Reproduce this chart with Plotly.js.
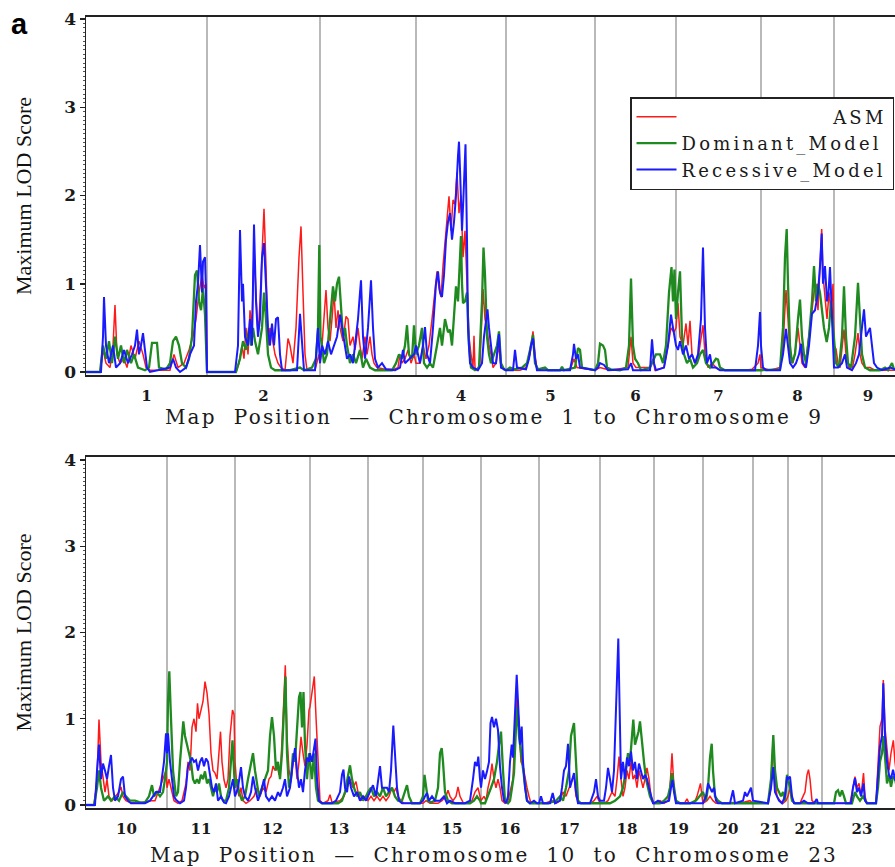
<!DOCTYPE html>
<html>
<head>
<meta charset="utf-8">
<script src="https://cdn.plot.ly/plotly-3.0.1.min.js"></script>
<style>
html,body{margin:0;padding:0;overflow:hidden;background:#fff;}
#chart{width:912px;height:867px;}
.xtitle,.x2title{letter-spacing:2.2px;}
.legendtext{letter-spacing:3.2px;}
</style>
</head>
<body>
<div id="chart"></div>
<script>
// ---------- categories ----------
const chromTop = ['1','2','3','4','5','6','7','8','9'];
const chromLenTop = [242,226,192,180,178,162,170,146,136];          // cM
const chromBot = ['10','11','12','13','14','15','16','17','18','19','20','21','22','23'];
const chromLenBot = [162,136,150,116,110,116,116,122,108,98,100,70,68,160]; // cM

const seriesNames = ['ASM','Dominant_Model','Recessive_Model'];

// ---------- top panel: chromosomes 1-9 (map position cM, max LOD) ----------
const asmPos1 = [0,28,34,40,48,54,58,62,68,76,82,90,98,106,114,120,128,168,176,184,196,206,214,220,226,232,236,240,242,
 300,306,312,316,320,324,328,332,336,340,344,348,352,356,360,364,368,372,378,384,390,398,404,408,414,420,426,430,434,438,442,458,466,
 468,472,476,480,484,488,492,496,500,504,508,514,520,524,528,534,538,544,548,552,558,562,568,572,576,582,598,614,624,628,632,638,644,650,656,660,
 668,674,680,686,692,698,702,706,710,714,718,722,726,730,734,738,742,746,750,754,758,762,766,770,774,776,778,782,788,794,798,802,806,810,814,820,826,830,840,
 868,880,888,894,898,902,968,976,982,1018,
 1028,1048,1084,1090,1094,1100,1128,1134,1138,1156,1164,1170,1176,1180,
 1184,1188,1194,1200,1204,1208,1212,1218,1224,1228,1234,1238,1244,1252,1260,1268,1318,1332,1344,1348,1350,
 1368,1388,1394,1400,1404,1408,1414,1420,1424,1428,1432,1438,1444,1450,1456,1460,1464,1468,1471.4,1474,1478,1482,1486,1490,1494,1496,
 1500,1504,1508,1512,1516,1520,1526,1532,1538,1544,1548,1552,1558,1568,1578,1632];
const asmLod1 = [0,0,0.25,0.1,0.05,0.3,0.76,0.2,0.1,0.15,0.05,0.3,0.15,0.35,0.2,0.05,0.02,0.02,0.2,0.05,0.1,0.25,0.4,0.6,0.9,1.1,0.95,1.0,0,
 0,0.1,0.3,0.15,0.5,0.2,0.7,0.5,1.4,0.9,0.4,0.8,1.3,1.85,1.2,0.3,0.5,0.4,0.2,0.1,0.05,0.02,0.38,0.3,0.1,0.5,1.3,1.65,0.9,0.2,0.02,0.02,0.2,
 0.1,0.3,0.6,0.93,0.5,0.35,0.6,0.9,0.5,0.7,0.5,0.35,0.63,0.6,0.3,0.4,0.25,0.5,0.3,0.15,0.4,0.2,0.4,0.2,0.1,0.05,0.03,0.03,0.05,0.2,0.1,0.15,0.25,0.1,0.2,0.1,
 0.1,0.3,0.15,0.3,0.6,0.9,1.14,0.95,0.85,1.2,1.5,1.8,1.99,1.6,1.95,1.9,2.26,1.8,2.0,1.3,1.6,1.0,0.4,0.2,0.05,0.41,0.05,0.02,0.1,0.94,0.6,0.5,0.3,0.2,0.05,0.1,0.3,0.05,0.02,
 0.02,0.05,0.2,0.46,0.2,0.02,0.02,0.15,0.05,0.02,
 0.05,0.02,0.05,0.4,0.1,0.05,0.05,0.15,0.02,0.05,0.3,0.5,0.45,0.5,
 0.78,0.4,0.3,0.55,0.3,0.58,0.2,0.1,0.15,0.3,0.53,0.2,0.05,0.1,0.05,0.02,0.02,0.03,0.1,0.2,0.05,
 0.02,0.05,0.3,0.93,0.6,0.2,0.1,0.3,0.5,0.3,0.1,0.05,0.3,0.6,0.9,1.0,0.7,1.2,1.62,1.1,0.8,0.6,0.9,0.7,1.0,0.3,
 0.26,0.1,0.05,0.3,0.48,0.2,0.05,0.02,0.2,0.44,0.2,0.1,0.05,0.05,0.02,0.02];

const domPos1 = [0,28,34,40,46,52,58,64,70,76,82,90,96,104,118,126,132,142,146,160,168,174,180,186,192,200,206,212,218,222,226,230,234,238,242,
 300,308,314,320,326,330,334,338,344,352,356,360,364,370,378,408,428,436,452,460,464,466.6,
 469,472,476,482,488,494,498,502,506,510,514,518,522,528,534,540,548,554,560,568,578,612,620,626,632,638,642,646,652,656,660,
 666,672,676,682,688,694,702,708,712,718,724,728,732,736,740,744,748,750,752,754,758,762,766,770,778,786,792,795,798,802,806,810,816,822,826,830,836,840,
 848,856,872,882,888,894,898,904,918,924,948,952,956,978,984,988,992,1018,
 1024,1028,1034,1038,1042,1050,1068,1080,1086,1090,1094,1098,1104,1110,1128,1140,1148,1154,1160,1166,1171,1174,1177,1180,
 1184,1188,1192,1196,1202,1208,1214,1222,1228,1234,1240,1248,1254,1260,1264,1268,1278,1350,
 1388,1394,1398,1401.4,1404,1408,1412,1418,1424,1428,1432,1436,1440,1446,1452,1456,1460,1464,1468,1472,1476,1481.4,1486,1490,1494,1496,
 1500,1506,1512,1516,1520,1524,1530,1538,1544,1548,1552,1558,1568,1588,1598,1604,1612,1616,1632];
const domLod1 = [0,0,0.3,0.15,0.35,0.1,0.4,0.15,0.3,0.1,0.25,0.1,0.2,0.05,0.02,0.05,0.33,0.33,0.05,0.03,0.1,0.35,0.4,0.3,0.1,0.05,0.15,0.4,1.1,1.15,0.8,0.7,0.95,0.65,0,
 0,0.15,0.35,0.25,0.5,0.3,0.5,0.35,0.2,0.5,0.9,0.6,0.2,0.05,0.02,0.02,0.05,0.02,0.05,0.15,0.5,1.44,
 0.4,0.3,0.1,0.2,0.6,0.97,0.8,1.0,1.08,0.7,0.4,0.5,0.3,0.1,0.2,0.1,0.25,0.05,0.15,0.05,0.02,0.02,0.1,0.2,0.15,0.3,0.53,0.2,0.15,0.53,0.2,
 0.3,0.5,0.1,0.05,0.1,0.05,0.3,0.5,0.3,0.6,0.45,0.48,0.3,0.6,0.97,0.8,1.3,1.54,1.0,0.78,0.8,0.9,0.3,0.05,0.02,0.05,0.8,1.41,1.1,0.4,0.2,0.1,0.2,0.3,0.46,0.1,0.03,0.02,
 0.05,0.03,0.05,0.1,0.25,0.42,0.1,0.03,0.05,0.02,0.02,0.06,0.02,0.05,0.27,0.25,0.05,0.02,
 0.1,0.32,0.3,0.25,0.05,0.03,0.02,0.05,0.3,1.06,0.3,0.15,0.1,0.02,0.05,0.2,0.2,0.1,0.3,0.9,1.19,0.8,1.16,0.6,
 0.9,1.14,0.4,0.2,0.1,0.15,0.05,0.1,0.2,0.25,0.1,0.05,0.1,0.15,0.14,0.05,0.02,0.02,
 0.03,0.5,1.3,1.62,1.0,0.3,0.1,0.2,0.6,0.82,0.4,0.2,0.1,0.4,0.8,1.2,0.8,1.0,0.9,0.7,0.5,0.34,0.5,0.8,0.5,0.3,
 0.1,0.05,0.4,0.97,0.4,0.1,0.05,0.4,1.01,0.6,0.2,0.05,0.02,0.02,0.05,0.02,0.1,0.03,0.02];

const recPos1 = [0,30,34,36,40,46,54,60,68,76,84,92,98,102,106,110,114,118,122,128,168,174,180,188,200,208,216,220,224,228,232,234,238,240,242,
 298,304,308,312,314,318,324,328,332,336,340,344,348,352,356,360,364,368,372,376,380,384,388,392,422,428,432,436,458,464,
 468,472,478,484,490,496,502,508,512,516,522,528,534,540,544,548,550,554,558,564,568,570,574,578,584,592,600,618,628,634,638,648,656,660,
 668,674,678,682,688,694,700,704,708,712,716,720,724,728,732,736,740,744,746,748,752,755,759,762,764,768,774,784,792,796,800,803,806,810,814,820,826,830,840,
 854,858,862,880,886,890,894,898,902,968,974,976,980,984,988,1018,
 1024,1028,1036,1044,1084,1090,1094,1128,1132,1136,1140,1156,1164,1170,1174,1180,
 1184,1188,1194,1200,1206,1212,1218,1224,1230,1234,1238,1242,1248,1252,1260,1268,1338,1344,1348,1350,
 1354,1360,1388,1394,1400,1404,1408,1414,1420,1426,1430,1434,1440,1446,1452,1458,1464,1468,1471.4,1474,1478,1482,1485,1488,1492,1496,
 1504,1512,1518,1522,1532,1540,1546,1552,1556,1560,1564,1568,1572,1576,1582,1592,1608,1618,1632];
const recLod1 = [0,0,0.4,0.85,0.3,0.1,0.3,0.05,0.1,0.25,0.1,0.2,0.3,0.48,0.2,0.3,0.44,0.2,0.05,0,0.05,0.15,0.05,0,0.05,0.2,0.3,0.8,1.0,1.44,0.9,1.25,1.3,0.9,0,
 0,0.3,1.61,0.8,1.0,0.4,0.3,0.6,0.3,1.67,0.8,0.4,0.6,1.3,1.46,1.0,0.5,0.3,0.55,0.3,0.6,0.62,0.2,0.02,0.02,0.66,0.3,0.02,0.02,0.5,
 0.1,0.3,0.2,0.35,0.2,0.3,0.4,0.65,0.5,0.4,0.15,0.2,0.1,0.4,0.6,0.9,1.04,0.4,0.15,0.5,0.9,1.04,0.5,0.15,0.05,0.1,0.03,0.02,0.05,0.25,0.1,0.15,0.2,0.3,
 0.1,0.3,0.51,0.2,0.1,0.5,1.0,1.14,0.9,0.85,1.1,1.5,1.7,1.8,1.5,1.7,2.0,2.45,2.61,2.3,1.6,2.0,2.58,1.5,0.5,0.1,0.05,0.02,0.1,0.4,0.6,0.71,0.5,0.3,0.1,0.1,0.43,0.05,0.02,
 0.02,0.25,0.05,0.03,0.15,0.3,0.38,0.15,0.02,0.02,0.2,0.32,0.15,0.2,0.05,0.02,
 0.05,0.1,0.08,0.02,0.03,0.1,0.02,0.02,0.37,0.1,0.02,0.05,0.3,0.65,0.5,0.3,
 0.25,0.35,0.2,0.3,0.15,0.2,0.1,0.2,0.6,1.41,0.5,0.1,0.2,0.05,0.05,0.02,0.02,0.3,0.68,0.3,
 0.05,0.02,0.02,0.2,0.49,0.3,0.1,0.05,0.1,0.2,0.32,0.1,0.05,0.3,0.66,0.7,0.9,1.2,1.57,1.0,1.2,0.8,0.9,1.19,0.6,0.05,
 0.05,0.1,0.2,0.05,0.02,0.1,0.2,0.5,0.71,0.4,0.45,0.5,0.3,0.1,0.05,0.02,0.05,0.03,0.02];

// ---------- bottom panel: chromosomes 10-23 ----------
const asmPos2 = [0,16,22,26,30,34,38,42,46,52,60,66,70,74,80,88,108,128,138,148,154,160,162,
 166,170,176,184,192,196,200,204,208,212,216,220,223,226,230,234,238,242,246,250,254,258,262,266,269,272,276,280,284,288,293,296,298,
 302,306,310,314,320,328,336,342,348,354,360,366,370,374,378,382,386,390,394,398.6,402,406,410,414,418,422,426,430,434,438,442,446,448,
 452,456.6,460,464,468,474,484,488,492,508,516,522,528,534,540,544,550,556,564,
 570,576,582,588,594,600,606,612,616,620,624,630,636,674,
 680,688,704,712,720,724,728,734,740,744,748,754,764,772,778,784,788,790,
 796,800,804,808,812,816,820,824,828,832,838,844,850,854,858,862,866,870,874,878,882,886,890,906,
 918,932,940,948,954,960,966,972,976,980,986,1008,1016,1022,1028,
 1036,1044,1052,1058,1062,1066,1070,1074,1078,1082,1086,1090,1094,1098,1102,1106,1110,1114,1118,1122,1126,1130,1134,1136,
 1148,1156,1164,1168,1172,1176,1180,1186,1198,1202,1206,1216,1222,1226,1229,1232,1234,
 1242,1248,1254,1260,1278,1292,1308,1328,1334,
 1364,1370,1374,1378,1382,1388,1394,1400,1404,
 1408,1412,1418,1428,1434,1438,1442,1445,1448,1452,1458,1472,
 1528,1534,1538,1542,1546,1550,1555,1558,1562,1580,1584,1588,1592,1594.6,1598,1602,1606,1610,1614.6,1618,1622,1632];
const asmLod2 = [0,0,0.3,0.99,0.5,0.3,0.15,0.3,0.1,0.05,0.1,0.15,0.21,0.1,0.05,0.03,0.02,0.05,0.05,0.2,0.3,0.4,0.2,
 0.3,0.2,0.05,0.02,0.05,0.15,0.25,0.5,0.4,0.9,1.0,0.85,1.18,1.0,1.1,1.2,1.43,1.3,1.06,0.6,0.4,0.37,0.3,0.6,0.85,0.5,0.29,0.2,0.3,0.8,1.1,1.05,0.5,
 0.2,0.1,0.2,0.05,0.02,0.05,0.1,0.2,0.1,0.2,0.15,0.3,0.33,0.45,0.4,0.48,0.35,0.5,1.0,1.62,0.8,0.4,0.3,0.5,0.6,0.3,0.5,0.79,0.6,0.45,0.7,1.1,1.14,
 1.3,1.49,1.02,0.5,0.05,0.02,0.05,0.12,0.03,0.05,0.1,0.2,0.3,0.2,0.27,0.15,0.05,0.1,0.05,
 0.1,0.05,0.1,0.05,0.1,0.05,0.1,0.2,0.15,0.2,0.1,0.05,0.02,0.02,
 0.05,0.02,0.02,0.05,0.1,0.17,0.1,0.05,0.1,0.21,0.1,0.03,0.02,0.05,0.15,0.2,0.1,0.05,
 0.1,0.05,0.2,0.3,0.48,0.3,0.2,0.3,0.2,0.05,0.02,0.05,0.2,0.3,0.9,1.29,0.9,0.5,0.45,0.3,0.2,0.1,0.02,0.02,
 0.02,0.05,0.02,0.05,0.15,0.1,0.2,0.3,0.35,0.1,0.02,0.02,0.05,0.1,0.02,
 0.02,0.05,0.15,0.1,0.3,0.56,0.3,0.1,0.2,0.4,0.3,0.5,0.3,0.35,0.2,0.4,0.3,0.2,0.3,0.43,0.3,0.1,0.05,0.02,
 0.05,0.02,0.05,0.2,0.6,0.2,0.05,0.02,0.03,0.07,0.02,0.02,0.1,0.2,0.25,0.1,0.02,
 0.05,0.1,0.05,0.02,0.02,0.03,0.02,0.05,0.02,
 0.02,0.2,0.75,0.3,0.1,0.05,0.02,0.05,0.1,
 0.2,0.05,0.02,0.02,0.1,0.15,0.35,0.41,0.3,0.05,0.02,0.02,
 0.02,0.2,0.33,0.2,0.25,0.1,0.37,0.1,0.02,0.02,0.4,0.91,1.0,1.45,0.9,0.6,0.4,0.6,0.75,0.5,0.3,0.2];

const domPos2 = [0,16,22,26,30,36,44,50,58,66,74,80,88,98,108,118,126,132,136,142,148,154,158,162,
 164,166.6,170,174,180,184,188,192,194.6,198,202,206,210,214,218,222,226,230,234,238,242,246,250,254,258,262,266,270,274,280,286,290,293,296,298,
 302,306,312,318,324,330,334,338,342,346,352,358,364,368,372,376,380,384,388,392,396,399,402,406,410,414,418,422,426,429,432,435,438,442,446,448,
 452,456,460,464,472,504,512,518,524,528,532,536,542,548,554,560,564,
 570,576,582,588,594,600,606,612,618,624,632,638,642,646,652,668,674,
 677,680,684,690,698,704,708,711.4,714,718,724,732,768,776,782,788,790,
 798,804,810,816,822,826,830,834,838,844,848,852,856,860,863,866,870,874,878,882,888,906,
 924,940,948,954,960,966,970,976,980,984,990,1028,
 1048,1058,1068,1074,1080,1084,1088,1092,1094.6,1098,1102,1105,1108,1112,1116,1120,1124,1128,1132,1136,
 1148,1156,1164,1168,1172,1176,1180,1188,1208,1220,1228,1234,
 1240,1244,1248,1251.4,1254,1258,1264,1272,1334,
 1364,1370,1374.6,1378,1382,1386,1390,1394,1398,1402,1404,
 1408,1412,1418,1472,
 1496,1500,1504,1508,1512,1516,1520,1532,1538,1542,1548,1554,1558,1562,1580,1584,1588,1592,1595,1598,1602,1606,1610,1614,1618,1622,1632];
const domLod2 = [0,0,0.2,0.4,0.2,0.05,0.1,0.05,0.1,0.05,0.15,0.1,0.05,0.05,0.03,0.03,0.1,0.23,0.1,0.15,0.1,0.15,0.3,0.5,
 1.2,1.55,1.0,0.4,0.1,0.15,0.5,0.85,0.97,0.8,0.7,0.6,0.5,0.3,0.25,0.3,0.25,0.35,0.3,0.39,0.25,0.3,0.2,0.1,0.2,0.15,0.25,0.1,0.05,0.05,0.2,0.6,0.75,0.4,0.2,
 0.3,0.15,0.05,0.1,0.3,0.5,0.6,0.4,0.25,0.1,0.2,0.3,0.4,0.8,1.02,0.8,0.4,0.5,0.3,0.6,1.2,1.49,0.6,0.2,0.3,0.6,0.5,0.9,1.25,1.31,0.9,1.31,0.7,0.3,0.6,0.5,
 0.3,0.6,0.2,0.05,0.02,0.02,0.05,0.15,0.35,0.46,0.3,0.2,0.1,0.15,0.05,0.1,0.15,
 0.2,0.1,0.15,0.1,0.2,0.1,0.15,0.2,0.1,0.05,0.05,0.15,0.23,0.1,0.02,0.02,0.1,
 0.35,0.2,0.05,0.03,0.05,0.2,0.6,0.66,0.5,0.15,0.05,0.02,0.02,0.05,0.1,0.05,0.02,
 0.02,0.1,0.2,0.3,0.5,0.7,0.85,0.4,0.05,0.02,0.05,0.2,0.37,0.9,1.14,0.8,0.6,0.4,0.2,0.05,0.02,0.02,
 0.02,0.05,0.1,0.05,0.2,0.4,0.8,0.95,0.4,0.05,0.02,0.02,
 0.02,0.05,0.1,0.2,0.4,0.6,0.5,0.8,0.99,0.7,0.8,0.85,0.97,0.7,0.5,0.3,0.2,0.1,0.05,0.02,
 0.02,0.05,0.1,0.2,0.37,0.2,0.05,0.02,0.02,0.05,0.1,0.15,
 0.05,0.2,0.55,0.71,0.4,0.1,0.05,0.02,0.02,
 0.02,0.3,0.81,0.4,0.2,0.15,0.1,0.15,0.05,0.35,0.3,
 0.2,0.05,0.02,0.02,
 0.02,0.15,0.17,0.1,0.17,0.1,0.02,0.02,0.15,0.1,0.05,0.1,0.05,0.02,0.02,0.2,0.5,0.6,0.8,0.5,0.25,0.35,0.21,0.33,0.3,0.2,0.1];

const recPos2 = [0,18,22,26,30,34,38,42,46,50,54,58,64,70,74,78,84,90,118,128,134,140,148,152,156,160,162,
 164,168,172,176,180,188,196,200,204,208,212,216,220,224,228,232,236,240,244,248,252,256,260,264,270,276,280,286,290,294,298,
 304,310,314,318,324,330,334,338,344,350,356,360,366,372,378,384,388,394,398,402,408,414,418,422,426,430,434,438,442,446,448,
 452,456,459,462,466,472,492,500,508,512,515,518,522,526,530,536,542,548,554,560,564,
 568,574,580,584,588,592,596,602,606,610,614.6,618,622,626,632,668,674,
 678,682,686,692,698,708,716,722,728,738,758,768,774,778,782,784.6,788,790,
 794,798,802,806,809,812,816,820,824,828,832,836,840,844,848,851.4,854,858,861.4,864,868,871.4,874,878,882,888,896,902,906,
 910,914,928,933.4,938,948,952,956,960,964,968,972,976,980,984,1008,1016,1020,1024,1028,
 1036,1040,1044,1048,1052,1056,1059,1062,1064.6,1067,1070,1074,1078,1082,1086,1090,1094,1098,1102,1106,1110,1114,1118,1122,1126,1130,1134,1136,
 1144,1152,1166,1170,1173,1176,1180,1234,
 1240,1244,1248,1252,1256,1260,1264,1288,1294,1298,1314,1318,1322,1326,1330,1334,
 1364,1370,1374.6,1378,1382,1386,1392,1398,1402,1404,
 1408,1412,1416,1428,1436,1444,1456,1461.4,1464,1472,
 1530,1534,1538,1542,1546,1550,1555,1558,1562,1580,1584,1588,1592,1594.6,1598,1602,1606,1610,1614,1618,1622,1632];
const recLod2 = [0,0,0.4,0.7,0.3,0.48,0.4,0.3,0.45,0.58,0.2,0.05,0.1,0.3,0.33,0.1,0.05,0.02,0.02,0.05,0.1,0.15,0.15,0.3,0.5,0.83,0.6,
 0.83,0.5,0.3,0.1,0.06,0.02,0.05,0.2,0.45,0.5,0.55,0.5,0.52,0.4,0.5,0.55,0.45,0.54,0.5,0.35,0.2,0.15,0.25,0.05,0.1,0.03,0.02,0.1,0.2,0.3,0.1,
 0.2,0.44,0.2,0.1,0.05,0.15,0.33,0.2,0.05,0.15,0.3,0.1,0.05,0.1,0.05,0.15,0.1,0.2,0.3,0.1,0.2,0.5,0.66,0.4,0.2,0.3,0.15,0.4,0.55,0.5,0.6,
 0.5,0.68,0.77,0.3,0.05,0.02,0.02,0.05,0.15,0.35,0.41,0.2,0.15,0.33,0.2,0.1,0.15,0.05,0.1,0.05,0.1,
 0.15,0.23,0.1,0.3,0.45,0.2,0.2,0.2,0.15,0.4,0.92,0.6,0.2,0.05,0.02,0.02,0.05,
 0.1,0.14,0.05,0.1,0.05,0.05,0.1,0.02,0.05,0.02,0.02,0.05,0.3,0.5,0.45,0.56,0.3,0.2,
 0.4,0.3,0.39,0.5,0.95,1.02,0.9,1.0,0.87,0.44,0.2,0.05,0.02,0.1,0.5,0.7,0.55,1.0,1.51,1.2,0.7,0.91,0.5,0.2,0.05,0.02,0.05,0.02,0.02,
 0.1,0.02,0.02,0.14,0.02,0.05,0.2,0.4,0.45,0.71,0.2,0.3,0.37,0.15,0.02,0.02,0.15,0.3,0.1,0.05,
 0.05,0.2,0.43,0.3,0.15,0.4,1.02,1.5,1.93,1.2,0.3,0.5,0.3,0.55,0.45,0.62,0.4,0.5,0.3,0.48,0.4,0.3,0.35,0.3,0.2,0.1,0.02,0.02,
 0.05,0.02,0.05,0.2,0.29,0.15,0.02,0.02,
 0.1,0.25,0.2,0.15,0.2,0.05,0.02,0.02,0.17,0.02,0.05,0.15,0.1,0.15,0.2,0.05,
 0.02,0.2,0.44,0.15,0.1,0.05,0.02,0.1,0.33,0.3,
 0.33,0.1,0.02,0.02,0.05,0.02,0.02,0.07,0.02,0.02,
 0.02,0.2,0.31,0.15,0.2,0.1,0.25,0.05,0.02,0.02,0.3,0.68,0.8,1.41,0.8,0.5,0.35,0.3,0.41,0.3,0.25,0.2];

// ---------- styling ----------
const colors = ['#ff1a1a', '#1f8a1f', '#1a1aff'];
const widths = [1.5, 2.3, 2.0];
const W = 912, H = 867;
const serif = 'DejaVu Serif';

function bounds(lens){ const b=[0]; let s=0; lens.forEach(l=>{ s+=l; b.push(s); }); return b; }
const bTop = bounds(chromLenTop), bBot = bounds(chromLenBot);
const cTop = chromLenTop.map((l,i)=>bTop[i]+l/2);
const cBot = chromLenBot.map((l,i)=>bBot[i]+l/2);

const topData = [[asmPos1,asmLod1],[domPos1,domLod1],[recPos1,recLod1]];
const botData = [[asmPos2,asmLod2],[domPos2,domLod2],[recPos2,recLod2]];
const traces = [];
topData.forEach((d,i)=>traces.push({x:d[0], y:d[1], type:'scatter', mode:'lines', name:seriesNames[i],
  xaxis:'x', yaxis:'y', line:{color:colors[i], width:widths[i]}, showlegend:true}));
botData.forEach((d,i)=>traces.push({x:d[0], y:d[1], type:'scatter', mode:'lines', name:seriesNames[i],
  xaxis:'x2', yaxis:'y2', line:{color:colors[i], width:widths[i]}, showlegend:false}));

// legend texts right-aligned by padding
const pad = {'ASM':17, 'Dominant_Model':0, 'Recessive_Model':0};
traces.forEach(t=>{ if(t.showlegend){ t.name = '\u00a0'.repeat(pad[t.name]) + t.name; } });

const shapes = [];
bTop.slice(1,-1).forEach(b=>shapes.push({type:'line', xref:'x', yref:'y domain', x0:b, x1:b, y0:0, y1:1, layer:'below', line:{color:'#8a8a8a', width:1.2}}));
bBot.slice(1,-1).forEach(b=>shapes.push({type:'line', xref:'x2', yref:'y2 domain', x0:b, x1:b, y0:0, y1:1, layer:'below', line:{color:'#8a8a8a', width:1.2}}));

const sp = '\u00a0\u00a0';
function xAxis(tv, tt, title, dom, standoff){
  return {domain:dom, range:[0,1632], tickvals:tv, ticktext:tt, ticks:'', showgrid:false, zeroline:false,
    showline:true, mirror:true, linecolor:'#222', linewidth:2, ticklabelstandoff:6,
    tickfont:{family:serif, size:15, color:'#1a1a1a', weight:'bold'},
    title:{text:title, font:{family:serif, size:20, color:'#1a1a1a'}, standoff:standoff}};
}
function yAxis(dom, rng){
  return {domain:dom, range:rng, tickvals:[0,1,2,3,4], ticks:'outside', ticklen:5, tickwidth:1.5, tickcolor:'#222',
    minor:{dtick:0.05, ticks:'outside', ticklen:2, tickcolor:'#555', tickwidth:1},
    showgrid:false, zeroline:false, showline:true, mirror:true, linecolor:'#222', linewidth:1.5,
    tickfont:{family:serif, size:17, color:'#1a1a1a', weight:'bold'},
    title:{text:'Maximum LOD Score', font:{family:'Liberation Serif, Times New Roman, serif', size:22, color:'#111'}, standoff:26}};
}

const xa = xAxis(cTop, chromTop, 'Map'+sp+'Position'+sp+'\u2014'+sp+'Chromosome'+sp+'1'+sp+'to'+sp+'Chromosome'+sp+'9', [86/W, 902/W], 5);
xa.anchor = 'y';
const xb = xAxis(cBot, chromBot, 'Map'+sp+'Position'+sp+'\u2014'+sp+'Chromosome'+sp+'10'+sp+'to'+sp+'Chromosome'+sp+'23', [86/W, 902/W], 12);
xb.anchor = 'y2';
const ya = yAxis([1-375/H, 1-17/H], [-0.034, 4.023]); ya.anchor = 'x';
const yb = yAxis([1-808/H, 1-457/H], [-0.035, 4.035]); yb.anchor = 'x2';

const layout = {
  width: W, height: H, margin:{l:0, r:0, t:0, b:0},
  paper_bgcolor:'#fff', plot_bgcolor:'#fff',
  xaxis: xa, yaxis: ya, xaxis2: xb, yaxis2: yb,
  shapes: shapes,
  legend:{x:894/W, xanchor:'right', y:1-97/H, yanchor:'top', bgcolor:'#fff', bordercolor:'#222', borderwidth:1.5,
    font:{family:serif, size:18, color:'#1a1a1a'}, tracegroupgap:0, itemwidth:40},
  annotations:[{text:'<b>a</b>', xref:'paper', yref:'paper', x:9/W, y:1-6/H, xanchor:'left', yanchor:'top',
    showarrow:false, font:{family:'Liberation Sans', size:29, color:'#000'}}]
};

Plotly.newPlot('chart', traces, layout, {staticPlot:true, displayModeBar:false});
</script>
</body>
</html>
